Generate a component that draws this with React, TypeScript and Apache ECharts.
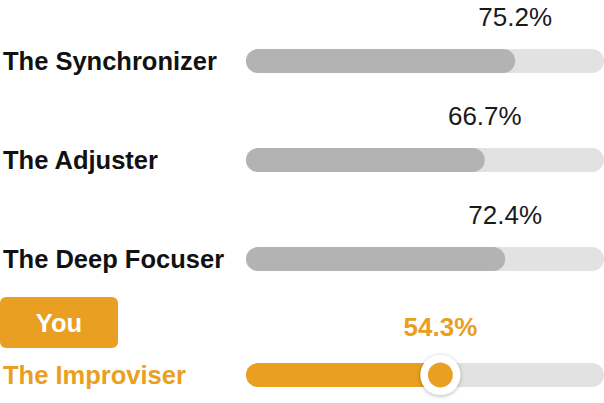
import React, { useEffect, useRef } from "react";
import * as echarts from "echarts";

const otherTypes = ["The Synchronizer", "The Adjuster", "The Deep Focuser"];
const otherValues = [75.2, 66.7, 72.4];
const userType = ["The Improviser"];
const userValue = [54.3];
const badgeText = "You";

const ORANGE = "#E89F22";
const FILL = "#B3B3B3";
const TRACK = "#E2E2E2";
const FONT = "'Liberation Sans', Arial, Helvetica, sans-serif";

export default function App() {
  const ref = useRef<HTMLDivElement>(null);
  useEffect(() => {
    if (!ref.current) return;
    const chart = echarts.init(ref.current, null, { renderer: "svg" });
    const xAxisBase = { type: "value" as const, min: 0, max: 100, show: false };
    const labelCommon = {
      show: true,
      position: ["100%", "50%"],
      align: "center",
      verticalAlign: "middle",
      formatter: "{c}%",
      fontFamily: FONT,
      fontSize: 26,
    };
    const knobData = userValue.map((v, i) => [v, userType[i]]);
    chart.setOption({
      animation: false,
      grid: [
        { left: 244, right: 0, top: 11.5, height: 297 },
        { left: 244, right: 0, top: 355, height: 40 },
      ],
      xAxis: [
        { ...xAxisBase, gridIndex: 0 },
        { ...xAxisBase, gridIndex: 1 },
      ],
      yAxis: [
        {
          type: "category",
          gridIndex: 0,
          inverse: true,
          data: otherTypes,
          axisLine: { show: false },
          axisTick: { show: false },
          axisLabel: {
            align: "left",
            margin: 243,
            fontFamily: FONT,
            fontSize: 25.5,
            fontWeight: "bold",
            color: "#111111",
          },
        },
        {
          type: "category",
          gridIndex: 1,
          inverse: true,
          data: userType,
          axisLine: { show: false },
          axisTick: { show: false },
          axisLabel: {
            align: "left",
            margin: 243,
            fontFamily: FONT,
            fontSize: 25.5,
            fontWeight: "bold",
            color: ORANGE,
          },
        },
      ],
      series: [
        {
          type: "bar",
          xAxisIndex: 0,
          yAxisIndex: 0,
          data: otherValues,
          barWidth: 24,
          showBackground: true,
          backgroundStyle: { color: TRACK, borderRadius: 12 },
          itemStyle: { color: FILL, borderRadius: 12 },
          label: { ...labelCommon, offset: [0, -44], color: "#1a1a1a" },
        },
        {
          type: "bar",
          xAxisIndex: 1,
          yAxisIndex: 1,
          data: userValue,
          barWidth: 24,
          showBackground: true,
          backgroundStyle: { color: TRACK, borderRadius: 12 },
          itemStyle: { color: ORANGE, borderRadius: 12 },
          label: { ...labelCommon, offset: [0, -48], color: ORANGE, fontWeight: "bold" },
        },
        {
          type: "scatter",
          xAxisIndex: 1,
          yAxisIndex: 1,
          data: knobData,
          symbol: "circle",
          symbolSize: 40,
          z: 5,
          silent: true,
          itemStyle: {
            color: "#ffffff",
            opacity: 1,
            shadowBlur: 4,
            shadowOffsetY: 1,
            shadowColor: "rgba(0,0,0,0.3)",
          },
        },
        {
          type: "scatter",
          xAxisIndex: 1,
          yAxisIndex: 1,
          data: knobData,
          symbol: "circle",
          symbolSize: 25,
          z: 6,
          silent: true,
          itemStyle: { color: ORANGE, opacity: 1 },
        },
      ],
      graphic: [
        {
          type: "rect",
          shape: { x: 0, y: 297, width: 118, height: 51, r: 6 },
          style: { fill: ORANGE },
        },
        {
          type: "text",
          x: 59,
          y: 323,
          style: {
            text: badgeText,
            fill: "#ffffff",
            font: `bold 25.5px ${FONT}`,
            align: "center",
            verticalAlign: "middle",
          },
        },
      ],
    });
    return () => chart.dispose();
  }, []);
  return (
    <div
      ref={ref}
      style={{ position: "fixed", left: 0, top: 0, width: 604, height: 403, background: "#fff" }}
    />
  );
}
